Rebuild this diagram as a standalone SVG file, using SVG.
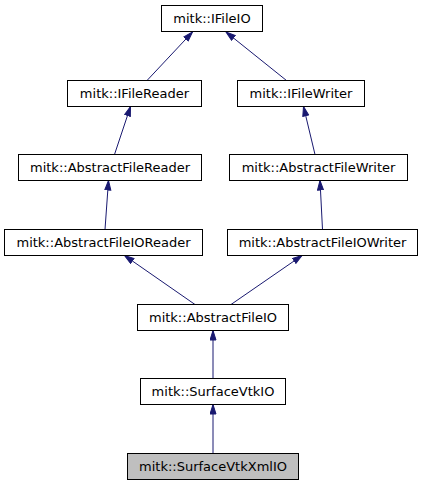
<svg xmlns="http://www.w3.org/2000/svg" width="423" height="485" viewBox="0 0 423 485">
<style>
.n rect{fill:#fff;stroke:#000;stroke-width:1}
.n text{font-family:"DejaVu Sans",sans-serif;font-size:13px;text-anchor:middle;fill:#000}
#e line{stroke:#191970;stroke-width:1;marker-end:url(#a)}
</style>
<defs>
<marker id="a" markerUnits="userSpaceOnUse" markerWidth="11" markerHeight="8" refX="10" refY="3.5" orient="auto">
<path d="M0.5,0.5 L10,3.5 L0.5,6.5 z" fill="#191970" stroke="#191970" stroke-width="1"/>
</marker>
</defs>
<rect width="423" height="485" fill="#fff"/>
<g id="e">
<line x1="147" y1="80.5" x2="192.5" y2="32"/>
<line x1="286.5" y1="80.5" x2="226" y2="32"/>
<line x1="114.5" y1="154.5" x2="130.5" y2="106.5"/>
<line x1="315" y1="154.5" x2="303.5" y2="106.5"/>
<line x1="105" y1="229.5" x2="108.5" y2="180.5"/>
<line x1="322.5" y1="229.5" x2="320" y2="180.5"/>
<line x1="195" y1="304.5" x2="124.5" y2="255.5"/>
<line x1="231" y1="304.5" x2="302" y2="255.5"/>
<line x1="213" y1="378.5" x2="213" y2="330.5"/>
<line x1="213" y1="453.5" x2="213" y2="404.5"/>
</g>
<g id="n_ifileio" class="n"><rect x="161.5" y="5.5" width="101" height="26"/><text x="212" y="22.5">mitk::IFileIO</text></g>
<g id="n_ifilereader" class="n"><rect x="67.5" y="80.5" width="134" height="26"/><text x="134.5" y="97.5">mitk::IFileReader</text></g>
<g id="n_ifilewriter" class="n"><rect x="237.5" y="80.5" width="127" height="26"/><text x="301" y="97.5">mitk::IFileWriter</text></g>
<g id="n_abstractfilereader" class="n"><rect x="18.5" y="154.5" width="183" height="26"/><text x="110" y="171.5">mitk::AbstractFileReader</text></g>
<g id="n_abstractfilewriter" class="n"><rect x="229.5" y="154.5" width="178" height="26"/><text x="318.5" y="171.5">mitk::AbstractFileWriter</text></g>
<g id="n_abstractfileioreader" class="n"><rect x="4.5" y="229.5" width="198" height="26"/><text x="103.5" y="246.5">mitk::AbstractFileIOReader</text></g>
<g id="n_abstractfileiowriter" class="n"><rect x="227.5" y="229.5" width="190" height="26"/><text x="322.5" y="246.5">mitk::AbstractFileIOWriter</text></g>
<g id="n_abstractfileio" class="n"><rect x="137.5" y="304.5" width="151" height="26"/><text x="213" y="321.5">mitk::AbstractFileIO</text></g>
<g id="n_surfacevtkio" class="n"><rect x="140.5" y="378.5" width="145" height="26"/><text x="213" y="395.5">mitk::SurfaceVtkIO</text></g>
<g id="n_surfacevtkxmlio" class="n"><rect x="127.5" y="453.5" width="171" height="26" style="fill:#bfbfbf"/><text x="213" y="470.5">mitk::SurfaceVtkXmlIO</text></g>
</svg>
